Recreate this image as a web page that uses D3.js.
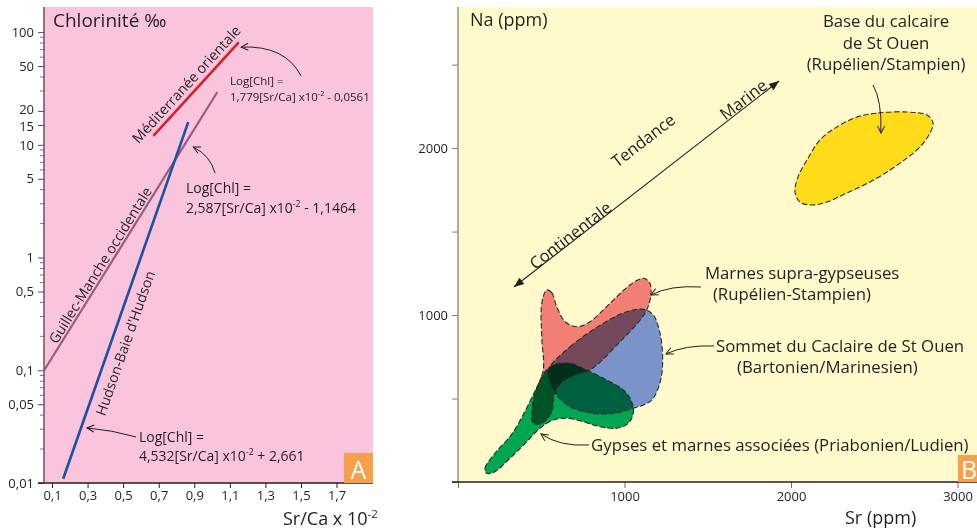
<!DOCTYPE html>
<html><head><meta charset="utf-8">
<script src="https://cdn.jsdelivr.net/npm/d3@7"></script>
<style>
body{margin:0;background:#fff;}
svg text{font-family:"Open Sans",sans-serif;fill:#231f20;}
</style></head><body>
<svg id="chart" width="977" height="530"></svg>
<script>
// ---------- Panel A : chlorinity against Sr/Ca ----------
const chlTicks = [100, 50, 20, 15, 10, 5, 1, 0.5, 0.1, 0.05, 0.01];
const srcaTicks = [0.1, 0.3, 0.5, 0.7, 0.9, 1.1, 1.3, 1.5, 1.7];
const lineNames = ["Méditerranée orientale", "Guillec-Manche occidentale", "Hudson-Baie d'Hudson"];
const lineSrCa = [[0.67, 1.15], [0.056, 1.03], [0.163, 0.866]];
const lineChl = [[12.0, 81], [0.1, 29.4], [0.0109, 15.9]];
const lineColors = ["#d2202c", "#9b5b7b", "#1d4fa2"];
const lineLabelAt = [[0.854, 34.6], [0.370, 0.859], [0.510, 0.1745]];
const eqCoef = ["1,779", "2,587", "4,532"];
const eqConst = [" - 0,0561", " - 1,1464", " + 2,661"];
const eqAt = [[1.101, 33.9], [0.853, 3.74], [0.589, 0.0231]];
const eqSize = [11.5, 14, 14];
const eqLead = [16, 20, 19];
// pointer arrows: start, control, end (Sr/Ca, Chl)
const eqArrows = [
  [[1.501, 40.7], [1.411, 76.7], [1.164, 73.6]],
  [[1.017, 5.61], [0.989, 8.11], [0.894, 9.55]],
  [[0.573, 0.0256], [0.438, 0.0295], [0.297, 0.0308]]
];

// ---------- Panel B : Na against Sr ----------
const naTicks = [0, 500, 1000, 1500, 2000, 2500];
const naLabelled = [1000, 2000];
const srTicks = [0, 1000, 2000, 3000];
const srLabelled = [1000, 2000, 3000];
const groupNames = ["Base du calcaire de St Ouen", "Marnes supra-gypseuses", "Sommet du Caclaire de St Ouen", "Gypses et marnes associées"];
const groupColors = ["#ffdb1a", "#f27f73", "#7a93c9", "#00a651"];
const groupOutline = [
  [[2396,2186],[2523,2210],[2697,2216],[2817,2198],[2853,2150],[2835,2091],[2775,2007],[2697,1941],[2595,1869],[2475,1797],[2336,1731],[2216,1677],[2126,1659],[2054,1677],[2024,1737],[2042,1827],[2096,1929],[2174,2049],[2276,2127]],
  [[533,1150],[563,1134],[593,1050],[643,960],[713,930],[793,960],[913,1070],[1033,1180],[1113,1220],[1153,1190],[1157,1110],[1123,1011],[973,840],[793,671],[703,641],[625,599],[580,533],[563,421],[503,352],[452,352],[443,412],[463,531],[512,671],[503,870],[503,1070]],
  [[542,671],[673,810],[873,951],[1013,1020],[1113,1034],[1173,1000],[1213,891],[1229,751],[1217,611],[1163,491],[1053,441],[933,411],[813,411],[673,451],[593,521],[553,601]],
  [[172,52],[162,82],[222,172],[322,285],[403,425],[468,556],[523,661],[572,701],[673,711],[763,675],[873,621],[993,551],[1043,481],[1053,412],[1023,352],[953,322],[853,331],[753,361],[653,382],[572,371],[492,322],[413,241],[312,142],[222,62]]
];
const groupText = [
  [["Base du calcaire", 2571, 2725, "middle"], ["de St Ouen", 2571, 2594, "middle"], ["(Rupélien/Stampien)", 2571, 2468, "middle"]],
  [["Marnes supra-gypseuses", 1483, 1216, "start"], ["(Rupélien-Stampien)", 1531, 1090, "start"]],
  [["Sommet du Caclaire de St Ouen", 1550, 779, "start"], ["(Bartonien/Marinesien)", 1676, 653, "start"]],
  [["Gypses et marnes associées (Priabonien/Ludien)", 799, 186, "start"]]
];
const groupArrows = [
  [[2492,2378],[2546,2288],[2540,2090]],
  [[1459,1168],[1273,1180],[1159,1120]],
  [[1538,815],[1363,821],[1249,767]],
  [[787,222],[613,210],[498,288]]
];
const trendEnds = [[336, 1168], [1928, 2402]];
const trendWords = [["Continentale", 673, 1480], ["Tendance", 1111, 2049], ["Marine", 1712, 2294]];

const ink = "#231f20";
const svg = d3.select("#chart");
const defs = svg.append("defs");
defs.append("marker").attr("id", "open").attr("viewBox", "-9 -5 10 10")
  .attr("refX", 0).attr("refY", 0).attr("markerWidth", 10).attr("markerHeight", 10)
  .attr("markerUnits", "userSpaceOnUse").attr("orient", "auto")
  .append("path").attr("d", "M-7,-3.5L0,0L-7,3.5").attr("fill", "none").attr("stroke", ink).attr("stroke-width", 1);
defs.append("marker").attr("id", "solid").attr("viewBox", "-11 -5 12 10")
  .attr("refX", 0).attr("refY", 0).attr("markerWidth", 12).attr("markerHeight", 10)
  .attr("markerUnits", "userSpaceOnUse").attr("orient", "auto-start-reverse")
  .append("path").attr("d", "M-10,-4L0,0L-10,4Z").attr("fill", ink);

const comma = d => String(d).replace(".", ",");

// ===== Panel A =====
const xA = d3.scaleLinear().domain([0.055, 1.905]).range([44, 373]);
const yA = d3.scaleLog().domain([0.01, 167]).range([483, 7]);
const gA = svg.append("g");
gA.append("rect").attr("x", 44).attr("y", 7).attr("width", 329).attr("height", 476).attr("fill", "#f9c4dc");

// minor log ticks
const minor = [];
[0.01, 0.1, 1, 10].forEach(dec => { for (let k = 2; k <= 9; k++) { const v = +(k * dec).toPrecision(3); if (!chlTicks.includes(v)) minor.push(v); } });
gA.selectAll(".mn").data(minor).join("line")
  .attr("x1", 40).attr("x2", 44).attr("y1", d => yA(d)).attr("y2", d => yA(d))
  .attr("stroke", "#5e4a55").attr("stroke-width", 0.8);

const axYA = gA.append("g").attr("transform", "translate(44,0)")
  .call(d3.axisLeft(yA).tickValues(chlTicks).tickFormat(comma).tickSize(6).tickPadding(4));
axYA.select(".domain").remove();
axYA.selectAll("line").attr("stroke", "#5e4a55");
axYA.selectAll("text").attr("font-size", 13).attr("fill", ink).attr("font-family", "Open Sans")
  .attr("dy", d => d === 20 ? "0.2em" : d === 15 ? "0.42em" : "0.32em");
gA.append("line").attr("x1", 44).attr("x2", 44).attr("y1", 7).attr("y2", 483).attr("stroke", "#5e4a55").attr("stroke-width", 1.4);

const axXA = gA.append("g").attr("transform", "translate(0,483)")
  .call(d3.axisBottom(xA).tickValues(srcaTicks).tickFormat(comma).tickSize(5).tickPadding(3));
axXA.select(".domain").remove();
axXA.selectAll("line").attr("stroke", ink);
axXA.selectAll("text").attr("font-size", 13).attr("fill", ink).attr("font-family", "Open Sans");
gA.append("line").attr("x1", 38).attr("x2", 373).attr("y1", 483).attr("y2", 483).attr("stroke", ink).attr("stroke-width", 1.5);

// regression lines
lineNames.forEach((name, i) => {
  const x1 = xA(lineSrCa[i][0]), y1 = yA(lineChl[i][0]), x2 = xA(lineSrCa[i][1]), y2 = yA(lineChl[i][1]);
  gA.append("line").attr("x1", x1).attr("y1", y1).attr("x2", x2).attr("y2", y2)
    .attr("stroke", lineColors[i]).attr("stroke-width", i === 1 ? 2.2 : 2.6);
  const ang = Math.atan2(y2 - y1, x2 - x1) * 180 / Math.PI;
  const lx = xA(lineLabelAt[i][0]), ly = yA(lineLabelAt[i][1]);
  gA.append("text").attr("transform", `translate(${lx},${ly}) rotate(${ang})`)
    .attr("text-anchor", "middle").attr("dominant-baseline", "central")
    .attr("font-size", 14.2).text(name);
});

// equations
eqCoef.forEach((c, i) => {
  const x = xA(eqAt[i][0]), y = yA(eqAt[i][1]);
  const t = gA.append("text").attr("x", x).attr("y", y).attr("font-size", eqSize[i]);
  t.append("tspan").attr("x", x).attr("y", y).text("Log[Chl] =");
  t.append("tspan").attr("x", x).attr("y", y + eqLead[i]).text(c + "[Sr/Ca] x10");
  t.append("tspan").attr("y", y + eqLead[i] - eqSize[i] * 0.4).attr("font-size", eqSize[i] * 0.62).text("-2");
  t.append("tspan").attr("y", y + eqLead[i]).text(eqConst[i]);
  const a = eqArrows[i].map(p => [xA(p[0]), yA(p[1])]);
  gA.append("path").attr("d", `M${a[0]}Q${a[1]} ${a[2]}`).attr("fill", "none")
    .attr("stroke", ink).attr("stroke-width", 1).attr("marker-end", "url(#open)");
});

gA.append("text").attr("x", 53).attr("y", 27).attr("font-size", 19).text("Chlorinité ‰");
const xtA = gA.append("text").attr("x", 283).attr("y", 524.5).attr("font-size", 18);
xtA.append("tspan").text("Sr/Ca x 10");
xtA.append("tspan").attr("dy", -7).attr("font-size", 11.5).text("-2");

gA.append("rect").attr("x", 344).attr("y", 453).attr("width", 29).attr("height", 30).attr("fill", "#f6a04c");
gA.append("text").attr("x", 358.5).attr("y", 479).attr("text-anchor", "middle").attr("font-size", 25)
  .style("fill", "#fff").text("A");

// ===== Panel B =====
const xB = d3.scaleLinear().domain([0, 3117]).range([458, 977]);
const yB = d3.scaleLinear().domain([0, 2845]).range([482, 7]);
const gB = svg.append("g");
gB.append("rect").attr("x", 457).attr("y", 7).attr("width", 520).attr("height", 475).attr("fill", "#fff9cb");

const axYB = gB.append("g").attr("transform", "translate(458,0)")
  .call(d3.axisLeft(yB).tickValues(naTicks).tickFormat(d => naLabelled.includes(d) ? d : "").tickSize(6).tickPadding(4));
axYB.select(".domain").remove();
axYB.selectAll("line").attr("stroke", "#7d7d7d");
axYB.selectAll("text").attr("font-size", 13).attr("fill", ink).attr("font-family", "Open Sans");
gB.append("line").attr("x1", 458).attr("x2", 458).attr("y1", 7).attr("y2", 482).attr("stroke", "#8a8a8a").attr("stroke-width", 1.4);

const axXB = gB.append("g").attr("transform", "translate(0,482)")
  .call(d3.axisBottom(xB).tickValues(srTicks)
    .tickFormat(d => srLabelled.includes(d) ? d : "").tickSize(6).tickPadding(4));
axXB.select(".domain").remove();
axXB.selectAll("line").attr("stroke", "#6d6d6d");
axXB.selectAll("text").attr("font-size", 13).attr("fill", ink).attr("font-family", "Open Sans");
gB.append("line").attr("x1", 452).attr("x2", 977).attr("y1", 482).attr("y2", 482).attr("stroke", ink).attr("stroke-width", 1.5);

// group envelopes, overlapping tints multiply
const blob = d3.line().x(d => xB(d[0])).y(d => yB(d[1])).curve(d3.curveCatmullRomClosed.alpha(0.5));
const fills = gB.append("g").style("isolation", "isolate");
groupOutline.forEach((pts, i) => {
  fills.append("path").attr("d", blob(pts)).attr("fill", groupColors[i]).style("mix-blend-mode", "multiply");
});
groupOutline.forEach(pts => {
  gB.append("path").attr("d", blob(pts)).attr("fill", "none").attr("stroke", "#2b2b2b")
    .attr("stroke-width", 1.1).attr("stroke-dasharray", "5.5,2.5");
});

groupText.forEach((lines, i) => {
  lines.forEach(l => {
    gB.append("text").attr("x", xB(l[1])).attr("y", yB(l[2])).attr("text-anchor", l[3])
      .attr("font-size", 16.8).text(l[0]);
  });
  const a = groupArrows[i].map(p => [xB(p[0]), yB(p[1])]);
  gB.append("path").attr("d", `M${a[0]}Q${a[1]} ${a[2]}`).attr("fill", "none")
    .attr("stroke", ink).attr("stroke-width", 1).attr("marker-end", "url(#open)");
});

// continental-to-marine trend
const t0 = [xB(trendEnds[0][0]), yB(trendEnds[0][1])], t1 = [xB(trendEnds[1][0]), yB(trendEnds[1][1])];
gB.append("line").attr("x1", t0[0]).attr("y1", t0[1]).attr("x2", t1[0]).attr("y2", t1[1])
  .attr("stroke", ink).attr("stroke-width", 1.1)
  .attr("marker-start", "url(#solid)").attr("marker-end", "url(#solid)");
const tAng = Math.atan2(t1[1] - t0[1], t1[0] - t0[0]) * 180 / Math.PI;
trendWords.forEach(w => {
  gB.append("text").attr("transform", `translate(${xB(w[1])},${yB(w[2])}) rotate(${tAng})`)
    .attr("text-anchor", "middle").attr("dominant-baseline", "central").attr("font-size", 16.5).text(w[0]);
});

gB.append("text").attr("x", 470).attr("y", 26).attr("font-size", 18).text("Na (ppm)");
gB.append("text").attr("x", 845).attr("y", 524).attr("font-size", 18).text("Sr (ppm)");

gB.append("rect").attr("x", 958).attr("y", 455).attr("width", 25).attr("height", 27).attr("fill", "#f6a04c");
gB.append("text").attr("x", 961).attr("y", 479).attr("font-size", 25).style("fill", "#fff").text("B");
</script>
</body></html>
